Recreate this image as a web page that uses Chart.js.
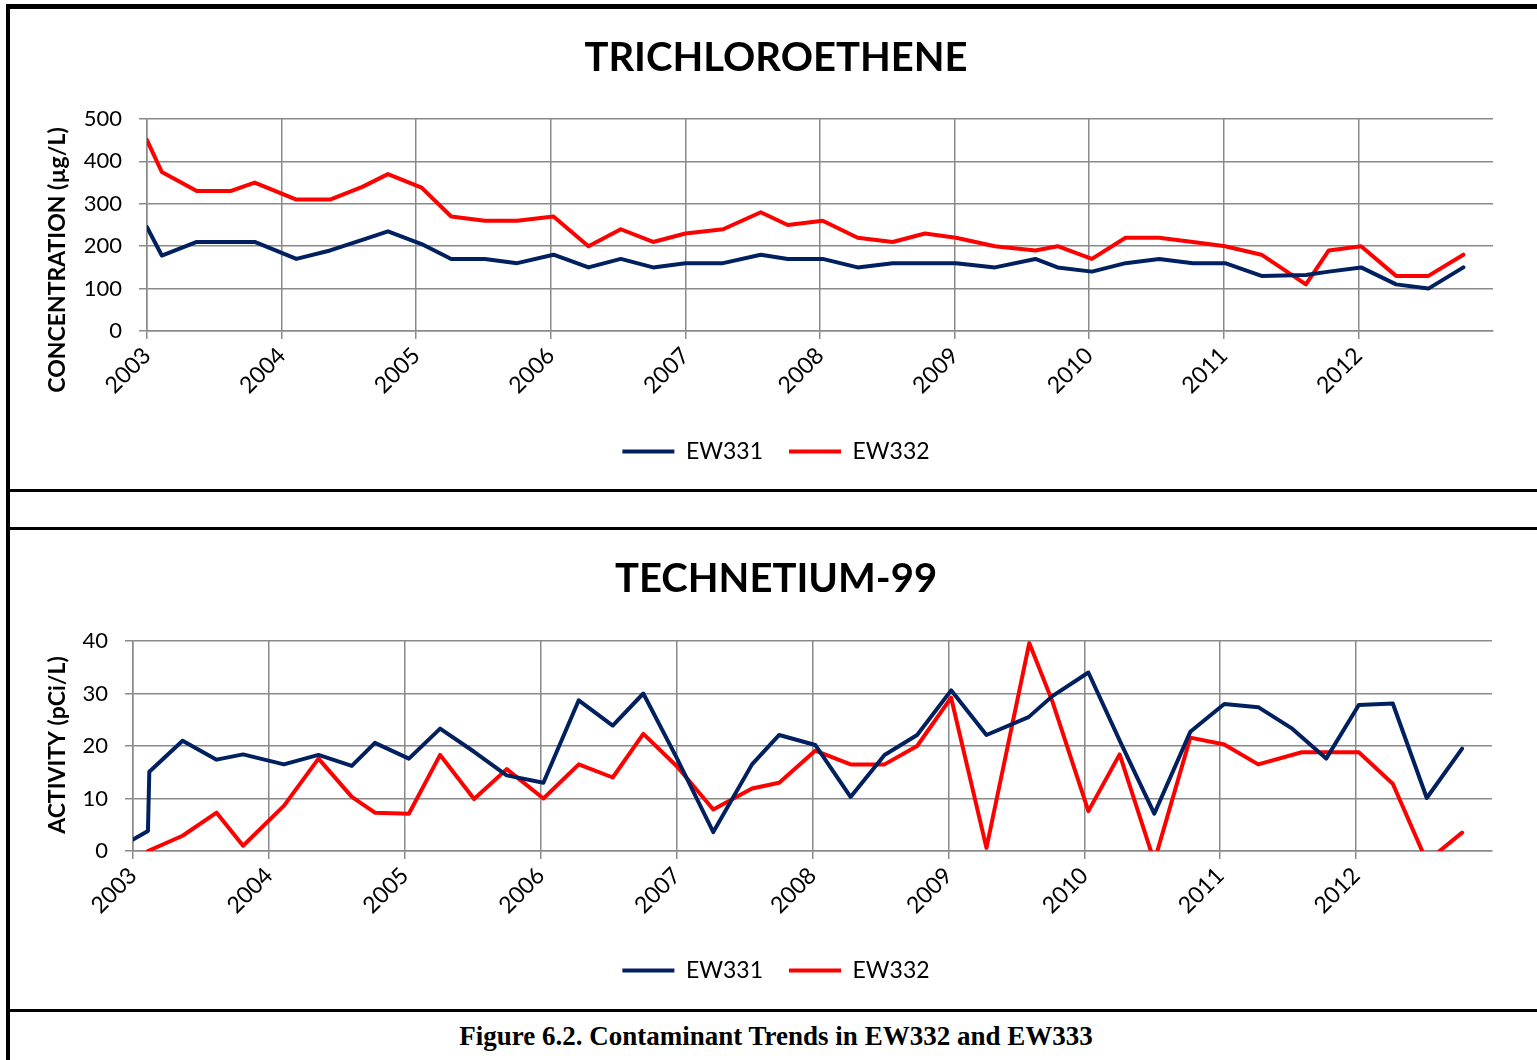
<!DOCTYPE html>
<html><head><meta charset="utf-8">
<script src="https://cdn.jsdelivr.net/npm/chart.js@4.4.1/dist/chart.umd.min.js"></script>
<style>
html,body{margin:0;padding:0;background:#fff;width:1537px;height:1060px;overflow:hidden;position:relative;}
.bl{position:absolute;background:#000;}
.box{position:absolute;}
#caption{position:absolute;left:0;width:1552px;top:1021px;line-height:32px;text-align:center;font:bold 27px "Liberation Serif","Times New Roman",serif;color:#000;}
</style></head><body>
<div class="bl" style="left:6px;top:4px;width:4px;height:1056px"></div>
<div class="bl" style="left:6px;top:4px;width:1531px;height:5px"></div>
<div class="bl" style="left:10px;top:489px;width:1527px;height:3px"></div>
<div class="bl" style="left:10px;top:527px;width:1527px;height:3px"></div>
<div class="bl" style="left:10px;top:1009px;width:1527px;height:3px"></div>
<div class="box" style="left:10px;top:10px;width:1527px;height:479px"><canvas id="c1"></canvas></div>
<div class="box" style="left:10px;top:531px;width:1527px;height:477px"><canvas id="c2"></canvas></div>
<div id="caption">Figure 6.2. Contaminant Trends in EW332 and EW333</div>
<script>
// ---------- DATA ----------
const yearTicks = [2003, 2004, 2005, 2006, 2007, 2008, 2009, 2010, 2011, 2012];
const seriesNames = ['EW331', 'EW332'];

// Trichloroethene (µg/L)
const tceDates = [2003.0, 2003.11, 2003.37, 2003.62, 2003.80, 2004.11, 2004.36, 2004.60, 2004.79, 2005.04,
  2005.26, 2005.51, 2005.75, 2006.02, 2006.28, 2006.52, 2006.76, 2007.0, 2007.28, 2007.56,
  2007.76, 2008.02, 2008.28, 2008.54, 2008.78, 2009.01, 2009.30, 2009.60, 2009.765, 2010.02,
  2010.27, 2010.52, 2010.77, 2011.01, 2011.28, 2011.61, 2011.78, 2012.02, 2012.28, 2012.52, 2012.78];
const tceEW331 = [245, 178, 210, 210, 210, 170, 190, 215, 235, 205,
  170, 170, 160, 180, 150, 170, 150, 160, 160, 180,
  170, 170, 150, 160, 160, 160, 150, 170, 150, 140,
  160, 170, 160, 160, 130, 132, 140, 150, 110, 100, 150];
const tceEW332 = [450, 375, 330, 330, 350, 310, 310, 340, 370, 338,
  270, 260, 260, 270, 200, 240, 210, 230, 240, 280,
  250, 260, 220, 210, 230, 220, 200, 190, 200, 170,
  220, 220, 210, 200, 180, 110, 190, 200, 130, 130, 180];

// Technetium-99 (pCi/L)
const tcDates331 = [2003.0, 2003.11, 2003.12, 2003.365, 2003.615, 2003.81, 2004.11, 2004.365, 2004.61, 2004.78,
  2005.03, 2005.26, 2005.51, 2005.75, 2006.02, 2006.28, 2006.53, 2006.755, 2007.0, 2007.27,
  2007.555, 2007.755, 2008.02, 2008.28, 2008.53, 2008.77, 2009.02, 2009.28, 2009.59, 2009.765,
  2010.03, 2010.27, 2010.515, 2010.78, 2011.03, 2011.28, 2011.53, 2011.78, 2012.02, 2012.27, 2012.52, 2012.78];
const tcEW331 = [2.2, 3.8, 15.1, 21.0, 17.4, 18.4, 16.5, 18.3, 16.2, 20.6,
  17.6, 23.3, 18.9, 14.4, 13.0, 28.7, 23.9, 30.0, 17.8, 3.6,
  16.5, 22.1, 20.2, 10.3, 18.3, 22.1, 30.6, 22.1, 25.5, 29.5,
  34.0, 20.5, 7.1, 22.7, 28.0, 27.4, 23.3, 17.6, 27.8, 28.1, 10.1, 19.5];
const tcDates332 = [2003.11, 2003.365, 2003.615, 2003.81, 2004.11, 2004.365, 2004.61, 2004.78, 2005.03, 2005.26,
  2005.51, 2005.75, 2006.02, 2006.28, 2006.53, 2006.755, 2007.0, 2007.27, 2007.555, 2007.755,
  2008.02, 2008.28, 2008.53, 2008.77, 2009.02, 2009.28, 2009.595, 2009.765, 2010.03, 2010.26,
  2010.515, 2010.78, 2011.03, 2011.28, 2011.6, 2011.78, 2012.02, 2012.27, 2012.52, 2012.78];
const tcEW332 = [0, 2.9, 7.3, 1.0, 8.6, 17.6, 10.3, 7.3, 7.1, 18.3,
  9.9, 15.6, 10.0, 16.5, 14.0, 22.3, 16.2, 7.9, 11.9, 13.0,
  19.1, 16.5, 16.5, 20.0, 29.2, 0.6, 39.6, 28.5, 7.6, 18.4,
  -2, 21.6, 20.3, 16.5, 18.8, 18.8, 18.8, 12.8, -2, 3.5];

// ---------- STYLE ----------
const NAVY = '#002060', RED = '#FF0000', GRID = '#8a8a8a';
const FONT = 'Lato';

const pts = (d, v) => d.map((x, i) => ({ x: x, y: v[i] }));

const axisTitlePlugin = {
  id: 'axisTitle',
  afterDraw(chart, args, o) {
    const ctx = chart.ctx;
    ctx.save();
    ctx.translate(o.x, o.y);
    ctx.rotate(-Math.PI / 2);
    ctx.font = o.font;
    ctx.fillStyle = '#000';
    ctx.textAlign = 'center';
    ctx.textBaseline = 'middle';
    ctx.fillText(o.text, 0, 0);
    ctx.restore();
  }
};

function ds(label, color, data) {
  return {
    label: label, data: data, borderColor: color, backgroundColor: color,
    borderWidth: 4, pointRadius: 0, pointHoverRadius: 0, tension: 0,
    borderCapStyle: 'round', borderJoinStyle: 'round', pointStyle: 'line'
  };
}

function makeChart(id, c) {
  const W = 1527, H = c.H;
  const TS = 40, TLH = TS * 1.2;
  return new Chart(document.getElementById(id), {
    type: 'line',
    data: { datasets: c.datasets },
    plugins: [axisTitlePlugin],
    options: {
      responsive: true, maintainAspectRatio: false, animation: false, devicePixelRatio: 1,
      layout: { padding: { left: c.padL, right: W - c.plotR, top: 0, bottom: c.padB } },
      scales: {
        x: {
          type: 'linear', min: 2003, max: 2013,
          afterBuildTicks: (s) => { s.ticks = yearTicks.map(v => ({ value: v })); },
          afterFit: (s) => {
            const lh = s.chart.legend ? s.chart.legend.height : 0;
            s.height = H - c.padB - lh - c.plotB;
          },
          ticks: {
            autoSkip: false, minRotation: 45, maxRotation: 45, padding: 3,
            color: '#000', font: { family: FONT, size: 23 },
            callback: (v) => String(v)
          },
          grid: { color: GRID, lineWidth: 1.5, tickLength: 8, drawTicks: true },
          border: { color: GRID, width: 1.5 }
        },
        y: {
          min: 0, max: c.yMax,
          afterFit: (s) => { s.width = c.plotL - c.padL; },
          ticks: { stepSize: c.yStep, padding: 17, color: '#000', font: { family: FONT, size: 22 } },
          grid: { color: GRID, lineWidth: 1.5, tickLength: 8, drawTicks: true },
          border: { color: GRID, width: 1.5 }
        }
      },
      plugins: {
        title: {
          display: true, text: c.title, color: '#000',
          font: { family: FONT, size: TS, weight: 'bold', lineHeight: 1.2 },
          padding: { top: 48.5 - TLH / 2, bottom: c.plotT - (48.5 - TLH / 2) - TLH }
        },
        legend: {
          display: true, position: 'bottom',
          labels: {
            usePointStyle: true, pointStyleWidth: 52, padding: 26, color: '#000',
            font: { family: FONT, size: 23 }
          }
        },
        tooltip: { enabled: false },
        axisTitle: { text: c.yTitle, x: 48, y: c.yTitleY, font: 'bold 23px Lato' }
      }
    }
  });
}

makeChart('c1', {
  H: 479, padL: 49, padB: 16, plotL: 137, plotR: 1483, plotT: 109, plotB: 321,
  yMax: 500, yStep: 100, title: 'TRICHLOROETHENE',
  yTitle: 'CONCENTRATION (µg/L)', yTitleY: 250,
  datasets: [ds(seriesNames[0], NAVY, pts(tceDates, tceEW331)), ds(seriesNames[1], RED, pts(tceDates, tceEW332))]
});

makeChart('c2', {
  H: 477, padL: 50, padB: 16, plotL: 123, plotR: 1482, plotT: 110, plotB: 320,
  yMax: 40, yStep: 10, title: 'TECHNETIUM-99',
  yTitle: 'ACTIVITY (pCi/L)', yTitleY: 214,
  datasets: [ds(seriesNames[0], NAVY, pts(tcDates331, tcEW331)), ds(seriesNames[1], RED, pts(tcDates332, tcEW332))]
});
</script>
</body></html>
